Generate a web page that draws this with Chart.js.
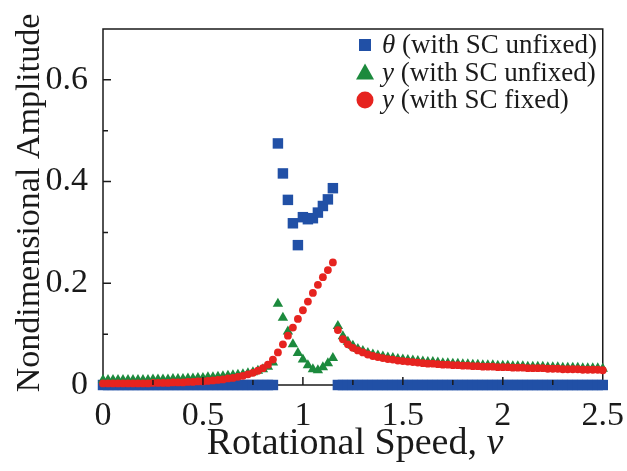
<!DOCTYPE html>
<html>
<head>
<meta charset="utf-8">
<script src="https://cdn.jsdelivr.net/npm/chart.js@4.4.1/dist/chart.umd.min.js"></script>
<style>
  html, body { margin: 0; padding: 0; background: #fff; }
  canvas { display: block; }
</style>
</head>
<body>
<canvas id="chart" width="627" height="471"></canvas>
<script>
// rotational speed, step 0.025
const speeds = [
  0, 0.025, 0.05, 0.075, 0.1, 0.125, 0.15, 0.175, 0.2, 0.225,
  0.25, 0.275, 0.3, 0.325, 0.35, 0.375, 0.4, 0.425, 0.45, 0.475,
  0.5, 0.525, 0.55, 0.575, 0.6, 0.625, 0.65, 0.675, 0.7, 0.725,
  0.75, 0.775, 0.8, 0.825, 0.85, 0.875, 0.9, 0.925, 0.95, 0.975,
  1, 1.025, 1.05, 1.075, 1.1, 1.125, 1.15, 1.175, 1.2, 1.225,
  1.25, 1.275, 1.3, 1.325, 1.35, 1.375, 1.4, 1.425, 1.45, 1.475,
  1.5, 1.525, 1.55, 1.575, 1.6, 1.625, 1.65, 1.675, 1.7, 1.725,
  1.75, 1.775, 1.8, 1.825, 1.85, 1.875, 1.9, 1.925, 1.95, 1.975,
  2, 2.025, 2.05, 2.075, 2.1, 2.125, 2.15, 2.175, 2.2, 2.225,
  2.25, 2.275, 2.3, 2.325, 2.35, 2.375, 2.4, 2.425, 2.45, 2.475,
  2.5
];

// theta, SC unfixed
const thetaUnfixed = [
  0, 0, 0, 0, 0, 0, 0, 0, 0, 0,
  0, 0, 0, 0, 0, 0, 0, 0, 0, 0,
  0, 0, 0, 0, 0, 0, 0, 0, 0, 0,
  0, 0, 0, 0, 0, 0.475, 0.416, 0.364, 0.318, 0.275,
  0.330, 0.326, 0.328, 0.339, 0.352, 0.365, 0.387, 0, 0, 0,
  0, 0, 0, 0, 0, 0, 0, 0, 0, 0,
  0, 0, 0, 0, 0, 0, 0, 0, 0, 0,
  0, 0, 0, 0, 0, 0, 0, 0, 0, 0,
  0, 0, 0, 0, 0, 0, 0, 0, 0, 0,
  0, 0, 0, 0, 0, 0, 0, 0, 0, 0,
  0
];

// y, SC unfixed
const yUnfixed = [
  0.010, 0.010, 0.010, 0.010, 0.010, 0.010, 0.010, 0.010, 0.010, 0.010,
  0.011, 0.011, 0.011, 0.011, 0.012, 0.012, 0.012, 0.013, 0.013, 0.014,
  0.014, 0.015, 0.015, 0.016, 0.017, 0.018, 0.019, 0.020, 0.021, 0.023,
  0.025, 0.028, 0.031, 0.036, 0.044, 0.160, 0.132, 0.105, 0.080, 0.063,
  0.050, 0.039, 0.031, 0.029, 0.035, 0.043, 0.053, 0.116, 0.096, 0.085,
  0.077, 0.071, 0.067, 0.063, 0.060, 0.058, 0.056, 0.054, 0.053, 0.051,
  0.050, 0.049, 0.048, 0.047, 0.046, 0.045, 0.045, 0.044, 0.043, 0.043,
  0.042, 0.042, 0.041, 0.041, 0.040, 0.040, 0.039, 0.039, 0.039, 0.038,
  0.038, 0.038, 0.037, 0.037, 0.037, 0.036, 0.036, 0.036, 0.036, 0.035,
  0.035, 0.035, 0.034, 0.034, 0.034, 0.034, 0.033, 0.033, 0.033, 0.033,
  0.032
];

// y, SC fixed
const yFixed = [
  0.003, 0.003, 0.003, 0.003, 0.003, 0.003, 0.003, 0.003, 0.003, 0.003,
  0.004, 0.004, 0.004, 0.004, 0.005, 0.005, 0.005, 0.006, 0.006, 0.007,
  0.007, 0.008, 0.009, 0.010, 0.011, 0.013, 0.014, 0.016, 0.018, 0.021,
  0.024, 0.028, 0.033, 0.040, 0.050, 0.064, 0.080, 0.097, 0.113, 0.130,
  0.147, 0.164, 0.181, 0.197, 0.212, 0.226, 0.241, 0.108, 0.090, 0.080,
  0.073, 0.068, 0.064, 0.060, 0.057, 0.055, 0.053, 0.051, 0.050, 0.048,
  0.047, 0.046, 0.045, 0.044, 0.043, 0.042, 0.042, 0.041, 0.040, 0.040,
  0.039, 0.039, 0.038, 0.038, 0.037, 0.037, 0.036, 0.036, 0.036, 0.035,
  0.035, 0.035, 0.034, 0.034, 0.034, 0.033, 0.033, 0.033, 0.033, 0.032,
  0.032, 0.032, 0.031, 0.031, 0.031, 0.031, 0.030, 0.030, 0.030, 0.030,
  0.029
];

const xTicks = [0, 0.5, 1, 1.5, 2, 2.5];
const xTickLabels = ['0', '0.5', '1', '1.5', '2', '2.5'];
const yTicks = [0, 0.2, 0.4, 0.6];
const yTickLabels = ['0', '0.2', '0.4', '0.6'];

const BLUE = '#2150a6';
const GREEN = '#1c8a3d';
const RED = '#e6231f';
const INK = '#1a1a1a';
const SERIF = '"Liberation Serif", "Times New Roman", serif';

function points(ys) {
  return speeds.map((s, i) => ({ x: s, y: ys[i] }));
}

const legendRows = [
  { sym: 'rect', color: BLUE, ital: 'θ', text: ' (with SC unfixed)' },
  { sym: 'triangle', color: GREEN, ital: 'y', text: ' (with SC unfixed)' },
  { sym: 'circle', color: RED, ital: 'y', text: ' (with SC fixed)' }
];

function drawSymbol(ctx, sym, color, x, y) {
  ctx.fillStyle = color;
  ctx.beginPath();
  if (sym === 'rect') {
    ctx.rect(x - 6, y - 6, 12, 12);
  } else if (sym === 'triangle') {
    ctx.moveTo(x, y - 9);
    ctx.lineTo(x + 9, y + 7);
    ctx.lineTo(x - 9, y + 7);
    ctx.closePath();
  } else {
    ctx.arc(x, y, 8.5, 0, Math.PI * 2);
  }
  ctx.fill();
}

const decor = {
  id: 'decor',
  beforeDatasetsDraw(chart) {
    const { ctx, chartArea: a } = chart;
    ctx.save();
    ctx.strokeStyle = INK;
    ctx.lineWidth = 1.5;
    ctx.strokeRect(a.left, a.top, a.right - a.left, a.bottom - a.top);
    ctx.restore();
  },
  afterDatasetsDraw(chart) {
    // inward ticks, major + minor
    const { ctx, chartArea: a, scales } = chart;
    ctx.save();
    ctx.strokeStyle = INK;
    ctx.lineWidth = 1.5;
    ctx.beginPath();
    for (let k = 1; k < 10; k++) {
      const px = scales.x.getPixelForValue(k * 0.25);
      const len = k % 2 === 0 ? 8 : 5;
      ctx.moveTo(px, a.bottom);
      ctx.lineTo(px, a.bottom - len);
    }
    for (let k = 1; k < 7; k++) {
      const py = scales.y.getPixelForValue(k * 0.1);
      const len = k % 2 === 0 ? 8 : 5;
      ctx.moveTo(a.left, py);
      ctx.lineTo(a.left + len, py);
    }
    ctx.stroke();
    ctx.restore();
  },
  afterDraw(chart) {
    const { ctx } = chart;
    ctx.save();
    ctx.fillStyle = INK;
    ctx.textBaseline = 'alphabetic';

    // x title with italic v
    ctx.font = '38px ' + SERIF;
    const t1 = 'Rotational Speed, ';
    const w1 = ctx.measureText(t1).width;
    ctx.font = 'italic 38px ' + SERIF;
    const w2 = ctx.measureText('v').width;
    let x0 = 355 - (w1 + w2) / 2;
    ctx.font = '38px ' + SERIF;
    ctx.fillText(t1, x0, 454);
    ctx.font = 'italic 38px ' + SERIF;
    ctx.fillText('v', x0 + w1, 454);

    // y title
    ctx.save();
    ctx.translate(39, 203);
    ctx.rotate(-Math.PI / 2);
    ctx.textAlign = 'center';
    ctx.font = '34px ' + SERIF;
    ctx.fillText('Nondimensional Amplitude', 0, 0);
    ctx.restore();

    // legend
    legendRows.forEach((r, i) => {
      const cy = 45 + i * 27.5;
      drawSymbol(ctx, r.sym, r.color, 365, cy);
      ctx.fillStyle = INK;
      ctx.font = 'italic 27px ' + SERIF;
      ctx.fillText(r.ital, 382, cy + 8);
      const wi = ctx.measureText(r.ital).width;
      ctx.font = '27px ' + SERIF;
      ctx.fillText(r.text, 382 + wi, cy + 8);
    });
    ctx.restore();
  }
};

new Chart(document.getElementById('chart'), {
  type: 'scatter',
  data: {
    datasets: [
      {
        label: 'θ (with SC unfixed)',
        data: points(thetaUnfixed),
        pointStyle: 'rect',
        pointRadius: 7.4,
        backgroundColor: BLUE,
        borderWidth: 0,
        order: 3
      },
      {
        label: 'y (with SC unfixed)',
        data: points(yUnfixed),
        pointStyle: 'triangle',
        pointRadius: 6,
        backgroundColor: GREEN,
        borderWidth: 0,
        order: 2
      },
      {
        label: 'y (with SC fixed)',
        data: points(yFixed),
        pointStyle: 'circle',
        pointRadius: 3.9,
        backgroundColor: RED,
        borderWidth: 0,
        order: 1
      }
    ]
  },
  options: {
    responsive: false,
    animation: false,
    clip: false,
    layout: { padding: { top: 29, right: 20, left: 0, bottom: 0 } },
    plugins: { legend: { display: false }, tooltip: { enabled: false } },
    elements: { point: { hoverRadius: 0 } },
    scales: {
      x: {
        type: 'linear',
        min: 0,
        max: 2.5,
        afterBuildTicks: s => { s.ticks = xTicks.map(v => ({ value: v })); },
        afterFit: s => { s.height = 86; },
        grid: { display: false },
        border: { display: false },
        ticks: {
          padding: 3,
          color: INK,
          maxRotation: 0,
          autoSkip: false,
          font: { family: SERIF, size: 34 },
          callback: (v, i) => xTickLabels[i]
        }
      },
      y: {
        type: 'linear',
        min: 0,
        max: 0.7,
        afterBuildTicks: s => { s.ticks = yTicks.map(v => ({ value: v })); },
        afterFit: s => { s.width = 103; },
        grid: { display: false },
        border: { display: false },
        ticks: {
          padding: 7,
          color: INK,
          font: { family: SERIF, size: 34 },
          callback: (v, i) => yTickLabels[i]
        }
      }
    }
  },
  plugins: [decor]
});
</script>
</body>
</html>
